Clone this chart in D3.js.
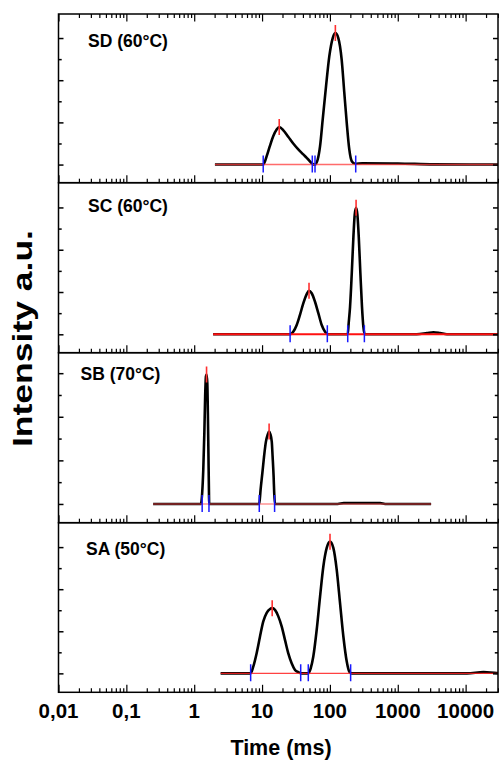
<!DOCTYPE html>
<html>
<head>
<meta charset="utf-8">
<script src="https://cdn.jsdelivr.net/npm/d3@7"></script>
<style>
  html, body { margin: 0; padding: 0; background: #fff; }
  svg { display: block; }
  text { font-family: "Liberation Sans", Arial, Helvetica, sans-serif; font-weight: bold; fill: #000; }
</style>
</head>
<body>
<svg id="chart" width="499" height="760"></svg>
<script>
// ---- T2 relaxation time distributions (time in ms, intensity in a.u.) ----
const sampleNames = ["SD (60°C)", "SC (60°C)", "SB (70°C)", "SA (50°C)"];

const sdTime = [2.02, 10.42, 11.7, 13.1, 14.6, 16.4, 17.9, 20.6, 24.3, 28.8, 34.2, 40.5, 48.0, 55.0, 58.3, 60.3, 66.1, 71.5, 78.3, 87.7, 98.0, 110, 120.3, 133, 149, 163, 177, 193, 210, 234.6, 300, 1000, 3400, 30000];
const sdIntensity = [0, 0, 0.20, 0.45, 0.67, 0.83, 0.89, 0.81, 0.66, 0.50, 0.36, 0.24, 0.12, 0.02, 0, 0, 0.12, 0.43, 1.07, 1.86, 2.57, 3.00, 3.12, 3.00, 2.49, 1.70, 0.99, 0.36, 0.08, 0.02, 0.03, 0.025, 0.005, 0];
const sdPeakTime = [17.9, 120.3];
const sdPeakHeight = [0.89, 3.12];
const sdBounds = [10.4, 55.0, 60.3, 240];

const scTime = [1.9, 25.9, 28.8, 32.4, 36.2, 40.5, 45.5, 49.2, 53.9, 60.3, 67.5, 75.7, 84.7, 94.7, 183, 189, 198, 210, 222, 232, 243, 254, 266, 281, 297, 311, 326, 1900, 2700, 3350, 4200, 5300, 30000];
const scIntensity = [0, 0, 0.06, 0.22, 0.46, 0.73, 0.95, 1.03, 0.97, 0.77, 0.50, 0.22, 0.06, 0, 0, 0.26, 0.65, 1.45, 2.31, 2.83, 2.99, 2.83, 2.31, 1.45, 0.65, 0.18, 0, 0, 0.03, 0.05, 0.03, 0, 0];
const scPeakTime = [49.2, 243];
const scPeakHeight = [1.03, 2.99];
const scBounds = [25.9, 91.6, 183, 322];

const sbTime = [0.248, 1.26, 1.31, 1.36, 1.41, 1.45, 1.49, 1.52, 1.56, 1.59, 1.62, 1.65, 1.66, 9.1, 9.5, 10.1, 10.7, 11.4, 12.1, 12.7, 13.2, 13.9, 14.3, 14.8, 15.1, 15.5, 130, 160, 550, 650, 3100];
const sbIntensity = [0, 0, 0.25, 0.78, 1.62, 2.47, 2.93, 2.97, 2.77, 2.08, 1.17, 0.25, 0, 0, 0.32, 0.71, 1.09, 1.43, 1.59, 1.66, 1.61, 1.43, 1.09, 0.63, 0.25, 0, 0, 0.02, 0.02, 0, 0];
const sbPeakTime = [1.52, 12.7];
const sbPeakHeight = [2.97, 1.66];
const sbBounds = [1.31, 1.65, 9.1, 15.3];

const saTime = [2.45, 6.79, 7.42, 8.32, 9.31, 10.4, 11.7, 13.1, 14.1, 15.5, 17.3, 19.5, 21.8, 24.3, 27.3, 30.6, 34.2, 38.4, 42.9, 48.0, 52.1, 56.9, 63.8, 71.5, 80.0, 89.7, 100.3, 112.3, 126, 141, 158, 177, 193, 210, 10500, 18400, 29000, 30000];
const saIntensity = [0, 0, 0.16, 0.48, 0.87, 1.23, 1.44, 1.53, 1.55, 1.51, 1.36, 1.11, 0.79, 0.48, 0.24, 0.08, 0.03, 0, 0, 0, 0.12, 0.40, 1.03, 1.82, 2.54, 2.98, 3.13, 2.98, 2.46, 1.67, 0.87, 0.28, 0.04, 0, 0, 0.03, 0.01, 0.01];
const saPeakTime = [14.1, 100.3];
const saPeakHeight = [1.55, 3.13];
const saBounds = [6.79, 37.1, 48.0, 202];

const xTickValues = [0.01, 0.1, 1, 10, 100, 1000, 10000];
const xTickLabels = ["0,01", "0,1", "1", "10", "100", "1000", "10000"];
const yTickValues = [0, 0.5, 1, 1.5, 2, 2.5, 3];
const xTitle = "Time (ms)";
const yTitle = "Intensity a.u.";

// ---- layout ----
const svg = d3.select("#chart");
const left = 58.5, right = 498;
const panelEdges = [14, 182.7, 352.7, 522.7, 692.3];
const yDomains = [[-0.43, 3.57], [-0.435, 3.585], [-0.43, 3.47], [-0.45, 3.58]];
const baseStyle = [
  { color: "#ff3a3a", width: 1.4, opacity: 0.75 },
  { color: "#ff1010", width: 2.0, opacity: 1.0 },
  { color: "#ff4a4a", width: 1.4, opacity: 0.6 },
  { color: "#ff2020", width: 1.2, opacity: 0.85 }
];

const x = d3.scaleLog().domain([0.01, 30000]).range([left, right]);

const panels = [
  { name: sampleNames[0], t: sdTime, v: sdIntensity, pt: sdPeakTime, ph: sdPeakHeight, b: sdBounds, lx: 88, ly: 46.5 },
  { name: sampleNames[1], t: scTime, v: scIntensity, pt: scPeakTime, ph: scPeakHeight, b: scBounds, lx: 88, ly: 211.5 },
  { name: sampleNames[2], t: sbTime, v: sbIntensity, pt: sbPeakTime, ph: sbPeakHeight, b: sbBounds, lx: 80.5, ly: 380 },
  { name: sampleNames[3], t: saTime, v: saIntensity, pt: saPeakTime, ph: saPeakHeight, b: saBounds, lx: 86, ly: 555 }
];

// minor log ticks
const minorTicks = [];
for (let e = -2; e <= 4; e++) {
  for (let m = 2; m <= 9; m++) {
    const v = m * Math.pow(10, e);
    if (v <= 30000) minorTicks.push(v);
  }
}

panels.forEach((p, i) => {
  const top = panelEdges[i], bottom = panelEdges[i + 1];
  const y = d3.scaleLinear().domain(yDomains[i]).range([bottom, top]);
  const g = svg.append("g");

  const clipId = "clip" + i;
  svg.append("clipPath").attr("id", clipId)
    .append("rect").attr("x", left).attr("y", top).attr("width", right - left).attr("height", bottom - top);

  const plot = g.append("g").attr("clip-path", `url(#${clipId})`);
  const pts = p.t.map((t, k) => [t, p.v[k]]);

  // measured distribution
  plot.append("path")
    .datum(pts)
    .attr("fill", "none")
    .attr("stroke", "#000")
    .attr("stroke-width", 2.6)
    .attr("stroke-linejoin", "round")
    .attr("d", d3.line().x(d => x(d[0])).y(d => y(d[1])).curve(d3.curveMonotoneX));

  // integration baseline
  const st = baseStyle[i];
  plot.append("line")
    .attr("x1", x(p.t[0])).attr("x2", x(p.t[p.t.length - 1]))
    .attr("y1", y(0)).attr("y2", y(0))
    .attr("stroke", st.color).attr("stroke-width", st.width).attr("stroke-opacity", st.opacity);

  // peak boundary markers
  plot.selectAll(".bnd").data(p.b).enter().append("line")
    .attr("x1", d => x(d)).attr("x2", d => x(d))
    .attr("y1", y(0) - 9).attr("y2", y(0) + 8)
    .attr("stroke", "#1a1aff").attr("stroke-width", 1.5);

  // peak maximum markers
  plot.selectAll(".pk").data(p.pt).enter().append("line")
    .attr("x1", d => x(d)).attr("x2", d => x(d))
    .attr("y1", (d, k) => y(p.ph[k]) - 8).attr("y2", (d, k) => y(p.ph[k]) + 8)
    .attr("stroke", "#ff3030").attr("stroke-width", 1.6);

  // frame
  g.append("rect")
    .attr("x", left).attr("y", top).attr("width", right - left).attr("height", bottom - top)
    .attr("fill", "none").attr("stroke", "#000").attr("stroke-width", 1.5);

  // bottom x ticks (inward)
  const xMajor = d3.axisBottom(x).tickValues(xTickValues).tickSize(-7.5).tickFormat("");
  const xMinor = d3.axisBottom(x).tickValues(minorTicks).tickSize(-4).tickFormat("");
  [xMajor, xMinor].forEach(ax => {
    const a = g.append("g").attr("transform", `translate(0,${bottom})`).call(ax);
    a.select(".domain").remove();
    a.selectAll("line").attr("stroke", "#000").attr("stroke-width", 1.2);
  });
  if (i === 0) {
    const tMajor = d3.axisTop(x).tickValues(xTickValues).tickSize(-7.5).tickFormat("");
    const tMinor = d3.axisTop(x).tickValues(minorTicks).tickSize(-4).tickFormat("");
    [tMajor, tMinor].forEach(ax => {
      const a = g.append("g").attr("transform", `translate(0,${top})`).call(ax);
      a.select(".domain").remove();
      a.selectAll("line").attr("stroke", "#000").attr("stroke-width", 1.2);
    });
  }

  // y ticks on both sides (inward)
  const yMaj = yTickValues.filter(v => Number.isInteger(v));
  const yMin = yTickValues.filter(v => !Number.isInteger(v));
  [[yMaj, 5], [yMin, 3.2]].forEach(([vals, len]) => {
    const la = g.append("g").attr("transform", `translate(${left},0)`)
      .call(d3.axisLeft(y).tickValues(vals).tickSize(-len).tickFormat(""));
    la.select(".domain").remove();
    la.selectAll("line").attr("stroke", "#000").attr("stroke-width", 1.5);
    const ra = g.append("g").attr("transform", `translate(${right},0)`)
      .call(d3.axisRight(y).tickValues(vals).tickSize(-len).tickFormat(""));
    ra.select(".domain").remove();
    ra.selectAll("line").attr("stroke", "#000").attr("stroke-width", 1.5);
  });

  // sample label
  g.append("text")
    .attr("x", p.lx).attr("y", p.ly)
    .attr("font-size", 17.5)
    .text(p.name);
});

// x tick labels under the lowest panel
svg.append("g").selectAll("text").data(xTickValues).enter().append("text")
  .attr("x", d => x(d))
  .attr("y", 718)
  .attr("text-anchor", "middle")
  .attr("font-size", 20.5)
  .text((d, k) => xTickLabels[k]);

// axis titles
svg.append("text")
  .attr("x", 281).attr("y", 755)
  .attr("text-anchor", "middle")
  .attr("font-size", 21.5)
  .text(xTitle);

svg.append("text")
  .attr("transform", "translate(32,338.5) rotate(-90)")
  .attr("text-anchor", "middle")
  .attr("font-size", 28)
  .attr("textLength", 217)
  .attr("lengthAdjust", "spacingAndGlyphs")
  .text(yTitle);
</script>
</body>
</html>
